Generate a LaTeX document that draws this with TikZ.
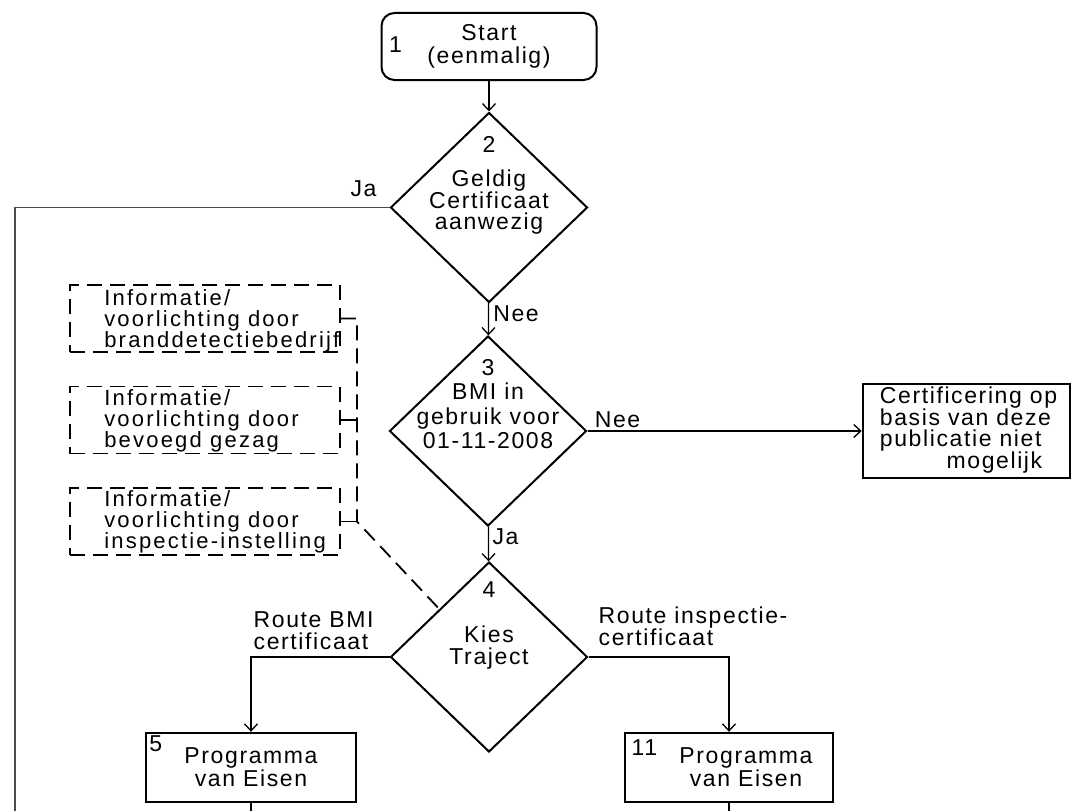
\documentclass[tikz,border=0pt]{standalone}
\usepackage{fontspec}
\setmainfont{Liberation Sans}[LetterSpace=7]
\usepackage{tikz}
\usetikzlibrary{positioning}
\usetikzlibrary{calc,arrows.meta}
\usetikzlibrary{shapes.geometric}

\tikzset{
	flow/.style={line width=1.3bp, -{Straight Barb[length=7bp,width=13bp]}},
	plain/.style={line width=1.3bp},
	frameline/.style={line width=1.6bp, black!70},
	infoline/.style={line width=1.8bp, dash pattern=on 15bp off 8bp},
	startbox/.style={draw, line width=2bp, rounded corners=13bp, minimum width=215bp, minimum height=67bp, inner sep=0pt, align=center},
	decision/.style={draw, diamond, line width=2bp, minimum width=197bp, minimum height=190bp, inner sep=0pt},
	procbox/.style={draw, line width=2.4bp, minimum width=210bp, minimum height=69bp, inner sep=0pt},
	infobox/.style={draw, infoline, minimum width=270bp, minimum height=67bp, inner sep=0pt},
	boxtext/.style={inner sep=0pt, align=center},
	infotext/.style={inner sep=0pt, align=left, font=\fontsize{22bp}{21bp}\selectfont\addfontfeatures{LetterSpace=10}},
	tag/.style={inner sep=0pt},
}

\begin{document}
\begin{tikzpicture}[x=1bp, y=-1bp, font=\fontsize{23bp}{23bp}\selectfont]
	
	% ------------------------------------------------
	% Page size of the graphic
	\useasboundingbox (0,0) rectangle (1079,811);
	
	% ------------------------------------------------
	% Relevant coordinates
	\coordinate (Top) at (489,0);
	
	\path (Top) +(0,46.5)     coordinate (P1);
	\path (P1)  +(0,161)      coordinate (P2);
	\path (P2)  +(-1,223.5)   coordinate (P3);
	\path (P3)  +(1,226)      coordinate (P4);
	\path (P4)  +(-238,110.5) coordinate (P5);
	\path (P4)  +(240,110.5)  coordinate (P11);
	\path (P3)  +(478.5,0)    coordinate (PNo);
	
	\coordinate (PI1) at (205,318.5);
	\path (PI1) +(0,101.5) coordinate (PI2);
	\path (PI2) +(0,101.5) coordinate (PI3);
	
	\coordinate (FrameBot) at (15,811);
	\coordinate (DashX) at (357,0);
	
	% ----------------
	% Flow chart blocks
	\node[startbox] (S1) at (P1) {Start\\(eenmalig)};
	\node[tag] (S1Num) at ($(S1.west)+(15,-2)$) {1};
	
	\node[decision] (Q2) at (P2) {};
	\node[tag] (Q2Num) at ($(Q2.center)+(0,-63)$) {2};
	\node[boxtext, font=\fontsize{23bp}{21.5bp}\selectfont] (Q2Text) at ($(Q2.center)+(0,-5)$) {Geldig\\Certificaat\\aanwezig};
	
	\node[decision] (Q3) at (P3) {};
	\node[tag] (Q3Num) at ($(Q3.center)+(0,-63)$) {3};
	\node[boxtext, font=\fontsize{23bp}{24.5bp}\selectfont] (Q3Text) at ($(Q3.center)+(0,-15)$) {BMI in\\gebruik voor\\01-11-2008};
	
	\node[decision] (Q4) at (P4) {};
	\node[tag] (Q4Num) at ($(Q4.center)+(0,-67)$) {4};
	\node[boxtext, font=\fontsize{23bp}{22bp}\selectfont] (Q4Text) at ($(Q4.center)+(0,-9.5)$) {Kies\\Traject};
	
	\node[procbox, minimum width=207bp, minimum height=94bp, line width=2.6bp] (NoCert) at (PNo) {};
	\node[boxtext, align=left, anchor=west, font=\fontsize{23bp}{21.5bp}\selectfont] (NoCertText) at ($(NoCert.west)+(18,-1)$) {Certificering op\\basis van deze\\publicatie niet\\\hspace*{2.9em}mogelijk};
	
	\node[procbox] (B5) at (P5) {};
	\node[tag] (B5Num) at ($(B5.north west)+(11,12)$) {5};
	\node[boxtext] (B5Text) at (B5.center) {Programma\\van Eisen};
	
	\node[procbox, minimum width=208bp] (B11) at (P11) {};
	\node[tag] (B11Num) at ($(B11.north west)+(20.5,16)$) {11};
	\node[boxtext] (B11Text) at ($(B11.center)+(17,0)$) {Programma\\van Eisen};
	
	% ----------------
	% Information boxes (dashed)
	\node[infobox] (I1) at (PI1) {};
	\node[infotext, anchor=west] (I1Text) at ($(I1.west)+(35,2.5)$) {Informatie/\\voorlichting door\\branddetectiebedrijf};
	\node[infobox] (I2) at (PI2) {};
	\node[infotext, anchor=west] (I2Text) at ($(I2.west)+(35,1)$) {Informatie/\\voorlichting door\\bevoegd gezag};
	\node[infobox] (I3) at (PI3) {};
	\node[infotext, anchor=west] (I3Text) at ($(I3.west)+(35,0)$) {Informatie/\\voorlichting door\\inspectie-instelling};
	
	\path ($(Q4.north)!0.5!(Q4.west)$) coordinate (DashEnd);
	
	% ----------------
	% Labels
	\node[tag] (LJa2)  at ($(Q2.west)+(-26,-19)$) {Ja};
	\node[tag] (LNee2) at ($(Q2.south)+(27,10.5)$) {Nee};
	\node[tag] (LNee3) at ($(Q3.east)+(30,-11.5)$) {Nee};
	\node[tag] (LJa3)  at ($(Q3.south)+(17.5,9.5)$) {Ja};
	\node[boxtext, align=left, anchor=west, font=\fontsize{23bp}{22bp}\selectfont] (LBmi) at ($(Q4.west)+(-136,-26)$) {Route BMI\\certificaat};
	\node[boxtext, align=left, anchor=west, font=\fontsize{23bp}{21bp}\selectfont] (LInsp) at ($(Q4.east)+(10,-31)$) {Route inspectie-\\certificaat};
	
	%%%%%%%%%%%%%%%%%%%%%%%%%%%%%%%%%%%%%%%%%
	% Connectors
	\draw[frameline] (Q2.west) -- (Q2.west -| FrameBot) -- (FrameBot);
	
	\draw[flow] (S1) -- (Q2);
	\draw[flow] (Q2) -- (Q3);
	\draw[flow] (Q3.east) -- (Q3.east -| NoCert.west);
	\draw[flow] (Q3) -- (Q4);
	\draw[flow] (Q4.west) -| (B5.north);
	\draw[flow] (Q4.east) -| (B11.north);
	
	\draw[plain] (B5.south) -- (B5.south |- FrameBot);
	\draw[plain] (B11.south) -- (B11.south |- FrameBot);
	
	\draw[infoline] (I1.east) -- (I1.east -| DashX) -- (I3.east -| DashX) -- (DashEnd);
	\draw[infoline] (I2.east) -- (I2.east -| DashX);
	\draw[infoline] (I3.east) -- (I3.east -| DashX);
	
\end{tikzpicture}
\end{document}
